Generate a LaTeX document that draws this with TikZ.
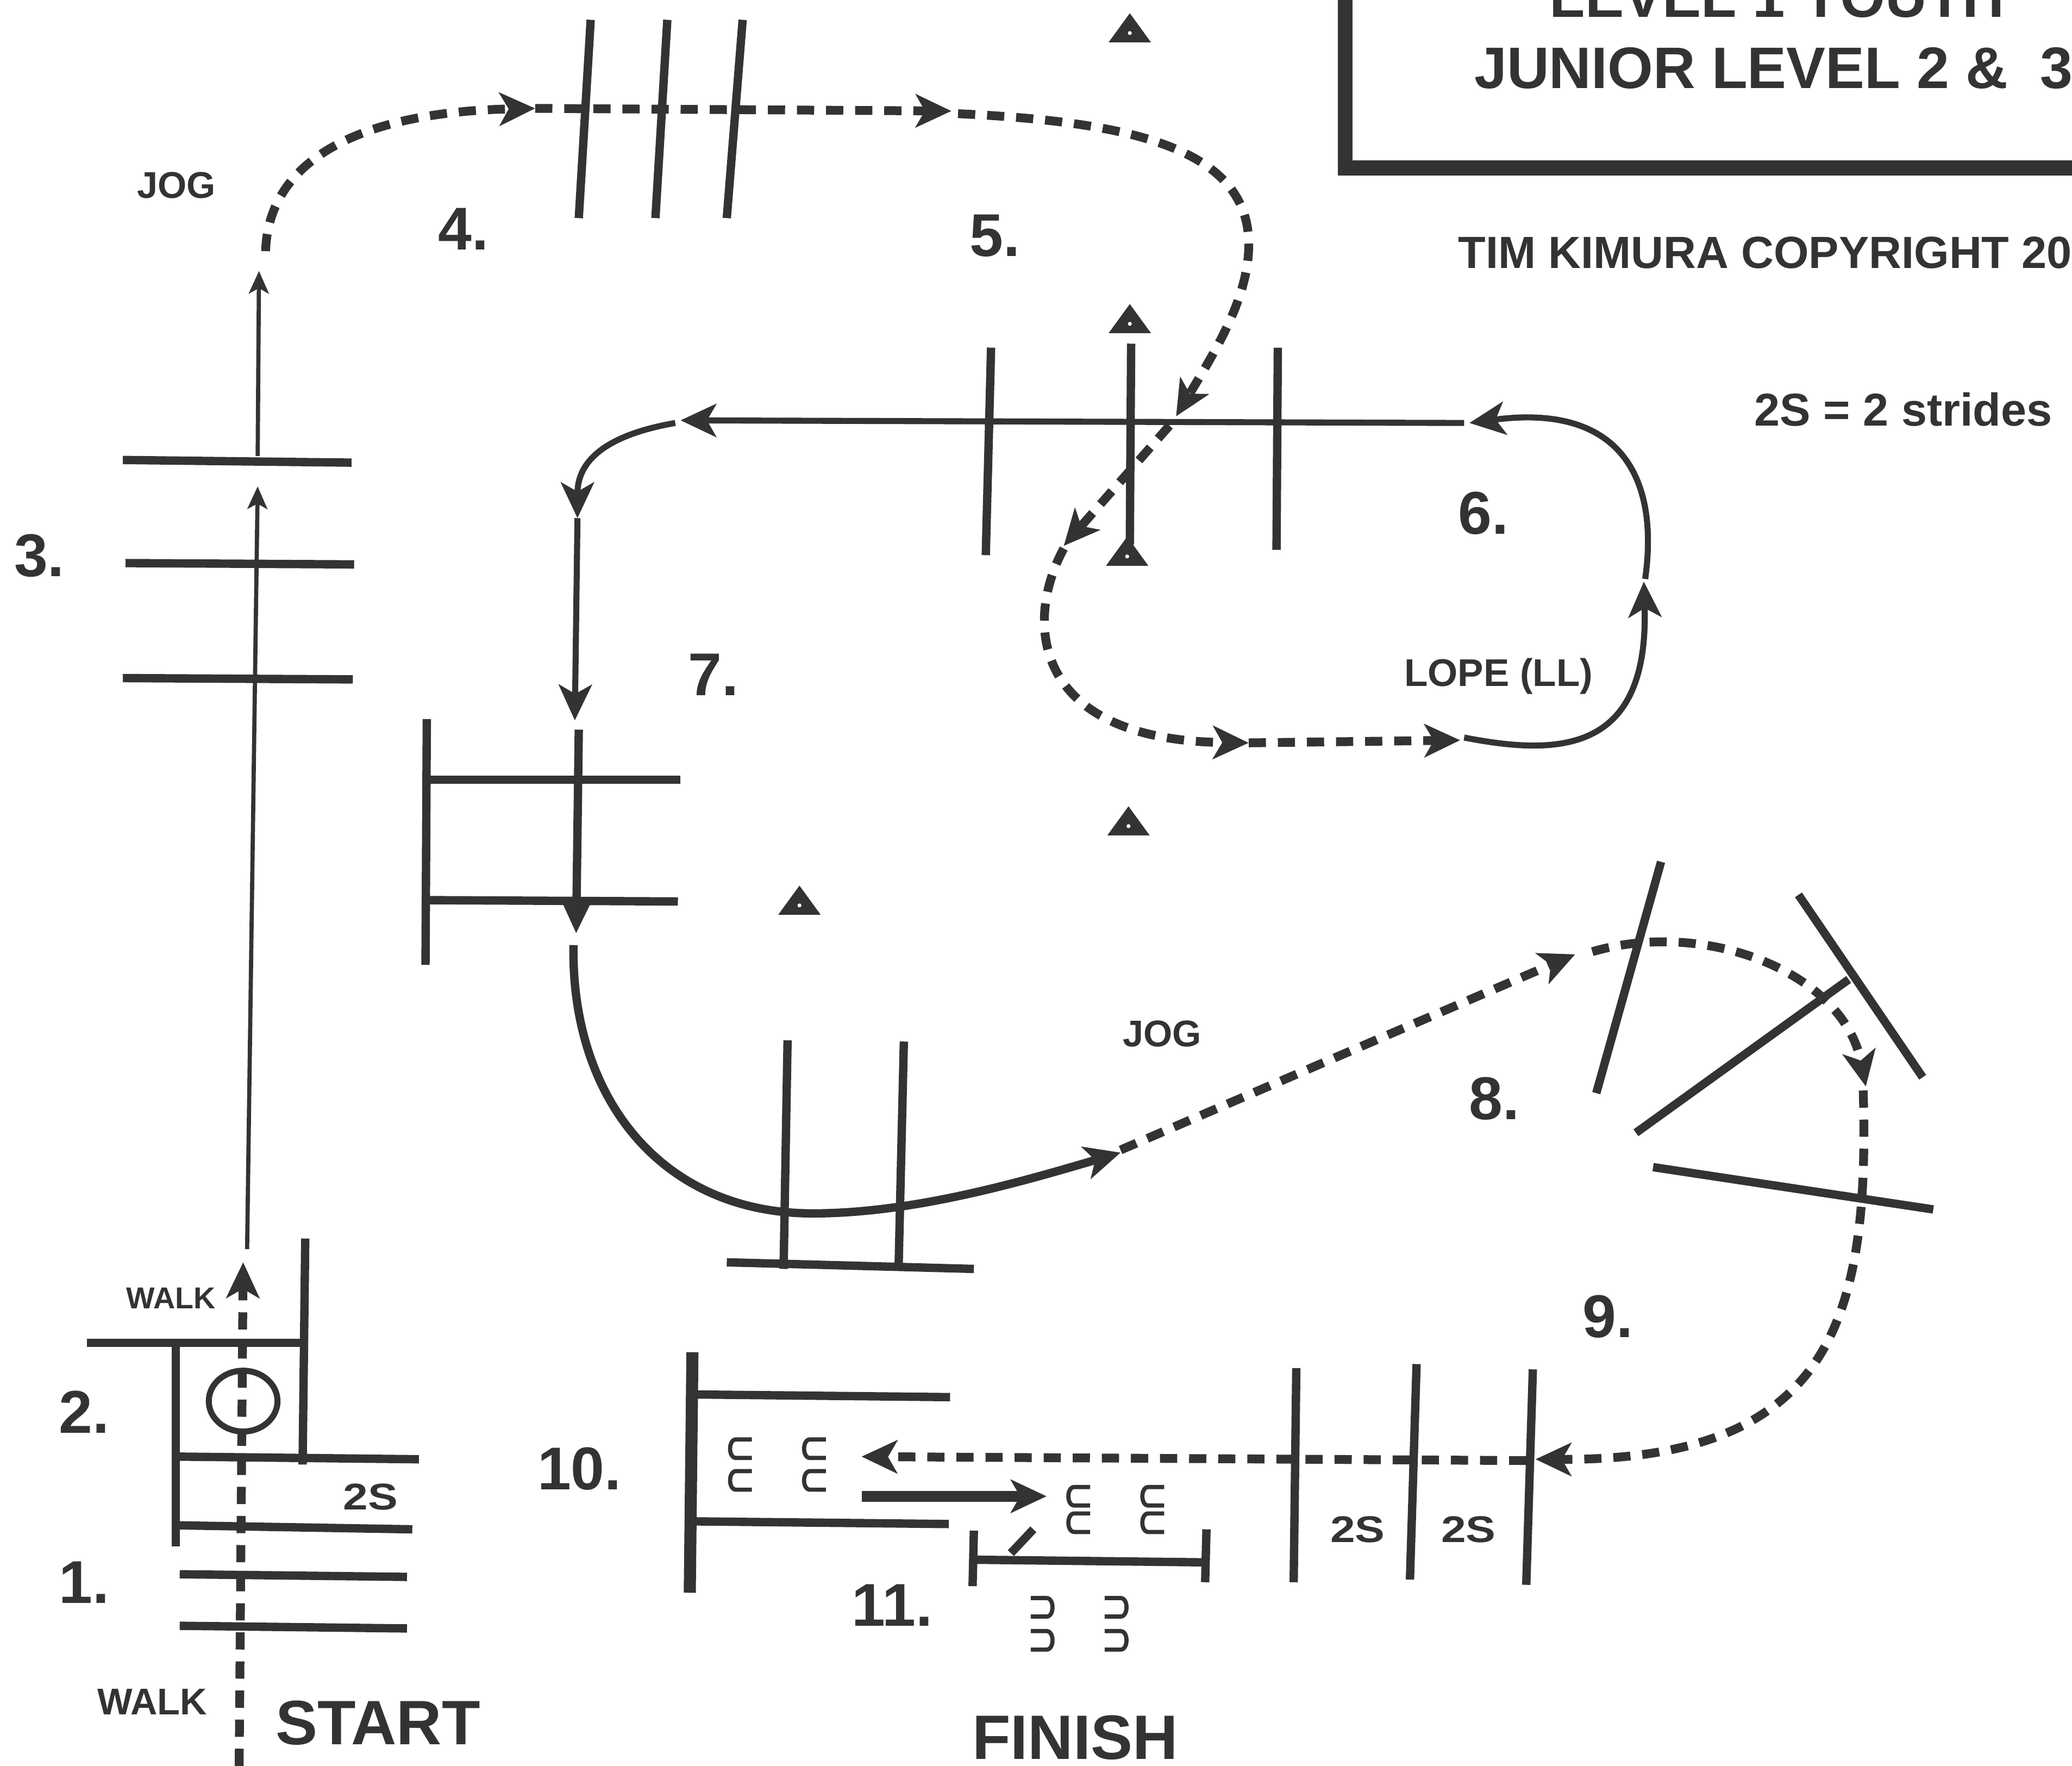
\documentclass[tikz,border=0pt]{standalone}
\usepackage{fontspec}
\setmainfont{Liberation Sans}
\newfontfamily\widefont{Liberation Sans}[FakeStretch=1.2]
\usetikzlibrary{arrows.meta}
\definecolor{ink}{gray}{0.2}
\newcommand{\lab}[1]{\bfseries\fontsize{#1}{#1}\selectfont}
\tikzset{
    every node/.style={inner sep=0pt, anchor=base west, text=ink},
    pole/.style={ink, line width=1.8pt},
    route/.style={ink, line width=1.3pt, -{Stealth[length=0.27cm,width=0.25cm,inset=0.07cm]}},
    thinroute/.style={ink, line width=0.9pt, -{Stealth[length=0.17cm,width=0.15cm,inset=0.04cm]}},
    walked/.style={route, line width=1.9pt, dash pattern=on 0.13cm off 0.09cm},
    numlab/.style={font=\lab{13}},
    small/.style={font=\lab{8}},
    stridelab/.style={font=\widefont\lab{8}},
    shoe/.pic={\draw[ink, line width=0.9pt] (8,-7) -- (-4,-7) .. controls (-10,-7) and (-10,7) .. (-4,7) -- (8,7);},
    cone/.pic={\fill[ink] (-16,0) -- (0,-22) -- (16,0) -- cycle; \fill[white] (0,-7) circle (1.5);}
}
\begin{document}
\begin{tikzpicture}[x=0.01cm, y=-0.01cm]
    \useasboundingbox (0,0) rectangle (1568,1336);

    % title box
    \draw[ink, line width=3.2pt] (1018,-10) -- (1018,127) -- (1580,127);
    \node[font=\lab{12.5}] (level) at (1172,13) {LEVEL 1 YOUTH};
    \node[font=\lab{12.6}] (junior) at (1115,67) {JUNIOR LEVEL 2 \&\ \ 3};
    \node[font=\lab{9.7}] (copy) at (1103,203) {TIM KIMURA COPYRIGHT 201};
    \node[font=\lab{9.9}] (strides) at (1327,322) {2S = 2 strides};

    % numbers
    \foreach \n/\x/\y in {1/44/1213, 2/44/1084, 3/10/436, 4/331/189, 5/733/194, 6/1103/404,
        7/520/526, 8/1111/847, 9/1197/1012, 10/406/1127, 11/644/1230}
        \node[numlab] (num\n) at (\x,\y) {\n.};

    % other labels
    \node[small] (jog1) at (103,150) {JOG};
    \node[small] (jog2) at (849,792) {JOG};
    \node[font=\lab{8.3}] (lope) at (1062,519) {LOPE (LL)};
    \node[font=\lab{6.5}] (walk1) at (95,990) {WALK};
    \node[small] (walk2) at (73,1297) {WALK};
    \node[stridelab] (strideA) at (259,1142) {2S};
    \node[stridelab] (strideB) at (1006,1167) {2S};
    \node[stridelab] (strideC) at (1090,1167) {2S};
    \node[font=\lab{13.5}] (start) at (208,1320) {START};
    \node[font=\lab{13.5}] (finish) at (735,1331) {FINISH};

    % cones
    \foreach \x/\y in {855/32, 855/252, 853/428, 854/632, 605/692}
        \pic at (\x,\y) {cone};

    % poles
    \foreach \a/\b/\c/\d in {
        93/348/266/350, 95/426/268/427, 93/513/267/514,
        447/15/438/165, 505/15/496/165, 562/15/550/165,
        750/263/746/420, 856/260/855/412, 967/263/966/416,
        323/544/322/730, 325/590/515/590, 325/681/513/682,
        596/787/593/960, 684/788/680/960, 550/955/737/960,
        1257/652/1208/827, 1361/677/1455/815, 1399/741/1238/857, 1251/883/1463/915,
        981/1035/979/1197, 1072/1032/1067/1195, 1160/1036/1155/1199,
        527/1055/719/1057, 527/1151/718/1153,
        737/1158/736/1200, 913/1157/912/1197, 737/1180/912/1182, 765/1175/782/1157,
        231/937/229/1108, 66/1016/231/1016, 133/1016/133/1170,
        135/1102/317/1104, 135/1154/312/1157, 136/1191/308/1193, 136/1230/308/1232}
        \draw[pole] (\a,\b) -- (\c,\d);
    \draw[pole, line width=2.6pt] (524,1023) -- (522,1205);
    \draw[ink, line width=1.3pt] (184,1060) ellipse [x radius=26, y radius=23];

    % shoes
    \foreach \x/\y in {561/1096, 561/1120, 617/1096, 617/1120}
        \pic at (\x,\y) {shoe};
    \foreach \x/\y in {817/1132, 817/1152, 873/1132, 873/1152}
        \pic at (\x,\y) {shoe};
    \foreach \x/\y in {788/1216, 788/1241, 844/1216, 844/1241}
        \pic[rotate=180] at (\x,\y) {shoe};

    % route: walk and jog
    \draw[walked] (181,1336) -- (184,955);
    \draw[thinroute] (187,945) -- (195,368);
    \draw[thinroute] (195,345) -- (196,205);
    \draw[walked] (201,190) .. controls (203,125) and (265,85) .. (405,82);
    \draw[walked] (405,82) -- (720,84);
    \draw[walked] (725,86) .. controls (850,92) and (945,110) .. (945,185)
        .. controls (945,225) and (920,265) .. (890,315);
    \draw[walked] (885,322) -- (805,413);
    \draw[walked] (805,415) .. controls (775,470) and (780,560) .. (945,562);
    \draw[walked] (945,562) -- (1105,560);

    % route: lope
    \draw[route] (1108,558) .. controls (1180,572) and (1248,570) .. (1244,440);
    \draw[route] (1245,438) .. controls (1256,360) and (1225,305) .. (1112,320);
    \draw[route] (1108,320) -- (515,318);
    \draw[route] (511,320) .. controls (465,328) and (437,345) .. (437,392);
    \draw[route] (437,392) -- (435,545);
    \draw[route, line width=1.8pt] (438,552) -- (436,706);
    \draw[route, line width=1.8pt] (434,715) .. controls (432,830) and (500,918) .. (615,918)
        .. controls (690,918) and (770,895) .. (848,872);

    % route: jog to the end
    \draw[walked] (848,870) -- (1192,722);
    \draw[walked] (1205,720) .. controls (1290,695) and (1395,735) .. (1412,822);
    \draw[walked] (1410,825) .. controls (1415,1000) and (1385,1105) .. (1162,1104);
    \draw[walked] (1155,1105) -- (652,1102);
    \draw[route, line width=2.4pt] (652,1132) -- (792,1132);
\end{tikzpicture}
\end{document}
